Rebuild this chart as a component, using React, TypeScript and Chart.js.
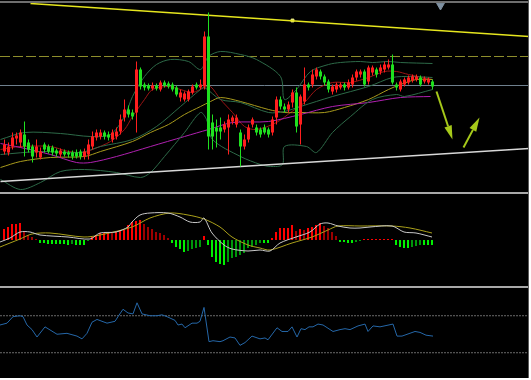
import React, { useEffect, useRef } from 'react';
import { Chart, registerables } from 'chart.js';
Chart.register(...registerables);

// ---------- Candles (price units) ----------
const OPEN = [39,38,44,52,48,56,48,44,38,33, 46,44,43,40,36,39,38,38,38,39, 34,36,44,53,54,58,56,51,54,59, 73,81,78,78,121,106,105,102,105,101, 108,107,106,103,93,91,91,98,106,103, 104,154,68,63,63,61,63,69,66,58, 44,51,66,63,61,63,61,58,73,91, 84,81,88,98,66,89,106,106,114,119, 114,109,99,101,103,106,103,106,113,116, 119,109,118,121,119,121,123,126,106,101, 106,108,110,111,113,109,108,109];
const CLOSE = [46,44,53,55,58,44,41,34,44,39, 41,39,38,37,40,36,36,34,34,34, 39,46,54,58,58,54,53,58,59,71, 81,76,74,121,104,103,102,105,102,108, 105,104,101,96,98,97,99,104,103,106, 154,54,54,59,59,66,71,73,73,44, 51,63,71,58,56,58,56,71,91,84, 81,86,98,64,94,106,103,116,121,114, 108,101,104,106,106,103,108,113,119,119, 106,123,123,116,123,126,126,108,103,109, 111,113,114,114,106,112,111,104];
const HIGH = [51,48,58,58,61,69,51,46,51,43, 48,46,45,42,42,41,40,40,41,41, 42,51,59,61,61,60,59,61,63,76, 91,85,81,129,123,108,107,108,107,110, 110,109,108,105,101,99,101,106,108,111, 159,178,76,71,73,69,76,75,76,61, 56,66,73,66,63,66,63,74,94,94, 87,89,101,103,96,123,108,121,123,121, 116,111,106,108,108,108,111,116,121,121, 121,125,125,123,126,129,131,136,108,111, 113,115,116,116,115,114,113,111];
const LOW = [36,35,41,46,43,34,38,28,33,31, 38,37,35,34,33,34,33,31,32,31, 31,31,41,50,51,51,50,48,51,56, 69,73,71,58,101,100,100,100,100,99, 103,102,99,94,89,89,89,96,101,101, 101,41,41,43,51,58,36,66,63,24, 41,48,63,55,53,56,53,55,66,81, 78,78,83,58,46,86,100,103,111,111, 105,98,96,98,101,100,101,103,110,113, 104,106,115,113,116,118,121,106,100,99, 104,106,108,109,104,107,106,101];

// ---------- Overlay lines (bar index, price) ----------
const BB_UPPER_X = [-1,5,14,21.5,26.5,30,32,35,38,41.5,46,49,51,54,59,63,69,70,73,76.5,81,84,89,92,96,99,107];
const BB_UPPER = [51,58,57,54,56,74,94,114,126,131,129,121,134,139,136,131,114,91,101,119,126,128,129,128,129,128,127];
const BB_MID_X = [-1,9,19,24,32,38,44,49,50,54,59,66,70,74,82,91,97,101.5,107];
const BB_MID = [36,39,38,44,51,64,84,101,103,91,88,78,79,84,94,104,113,114,113];
const BB_LOWER_X = [-1,4,9,14,20,28,34,36.5,40,45,49,50.5,52,59,64,66.5,69.5,70,75.5,78,82,86.5,92,98,100,107];
const BB_LOWER = [11,1,8,19,21,18,13,18,34,58,78,71,51,34,26,24,26,44,44,38,58,74,91,96,94,101];
const MA_RED_X = [-1,4,11.5,16,20,22,26.5,30,32,35,37,41,44,47,50,51.5,54,57,60,63,68,71.5,75,78,82,86.5,91,95,98,101,107];
const MA_RED = [41,44,44,39,38,41,49,61,74,91,101,104,101,98,103,104,91,78,64,61,68,78,88,101,108,108,113,119,119,116,111];
const MA_YELLOW_X = [-1,4,11.5,20,24,32,36.5,41,45,49,51.5,54,59,66,70,74,80,85,91,96,99,103,107];
const MA_YELLOW = [23,29,33,34,39,49,58,66,76,84,89,93,89,81,78,78,78,83,91,101,106,111,111];
const MA_MAGENTA_X = [-1,4,11.5,18,21.5,28,36.5,45,51,57,66,74,82,91,99,106.5];
const MA_MAGENTA = [47,43,36,28,28,34,44,54,61,68,69,76,84,88,93,94];

// trend lines, levels, arrows
const TREND_TOP_X = [6.5, 131.25];
const TREND_TOP = [187, 154];
const TREND_BOTTOM_X = [-1, 131.25];
const TREND_BOTTOM = [9, 42];
const RESIST_LEVEL = 134;
const PIVOT_LEVEL = 105;
const MARKER_X = [72];
const MARKER = [170];
const SHIFT_MARK_X = [109];
const SHIFT_MARK = [185];
const ARROW_X0 = [108, 114.75];
const ARROW_V0 = [99, 43];
const ARROW_X1 = [112, 118.75];
const ARROW_V1 = [51, 73];

// ---------- MACD ----------
const HIST = [11,13,16,16,17,9,5,3,1,-3, -3,-4,-4,-4,-4,-4,-5,-4,-5,-5, -5,-1,3,5,7,7,8,7,8,10, 10,15,18,19,20,16,13,11,8,7, 5,2,-3,-7,-9,-12,-11,-9,-8,-7, 4,-5,-17,-22,-24,-25,-22,-18,-17,-15, -13,-8,-7,-5,-3,-3,-3,2,8,12, 12,12,15,9,11,10,12,13,15,17, 14,12,8,4,-2,-2,-3,-3,-2,-1, 1,1,1,1,1,1,1,1,-5,-7, -8,-8,-7,-6,-5,-5,-5,-5];
const MACD_X = [-1,1.5,4,6.5,9,16,21.5,24,28,31,32,34,36.5,41,44,46.5,49,50,52,55,57,61,64,66.5,69,73,76.5,79,81,83.5,86.5,89,91.5,97,100,103,107];
const MACD = [-2,2,8,8,5,3,1,7,8,13,18,25,27,27,23,18,18,22,7,-5,-9,-11,-10,-11,-3,3,8,16,17,14,12,12,13,14,8,7,3];
const SIGNAL_X = [-1,4,7,11.5,20,24,32,36.5,41.5,46,50,54,57,61,64,66.5,72,77,81,83.5,89,97,101.5,107];
const SIGNAL = [-7,1,6,7,3,5,13,22,27,25,21,13,3,-5,-8,-10,-3,3,10,14,14,14,12,7];

// ---------- RSI ----------
const RSI_X = [-1,0.75,2.25,4,4.75,5.75,7,8.25,10.25,13.25,15.75,18.25,19.5,20.75,22,23.25,25.75,27.75,28.5,29.75,31,32.25,33.25,34.5,36.5,38.25,39.5,40.75,42.75,43.5,44.5,45.25,47,48.25,49,50,51.25,52.25,54,54.75,56.5,57.75,59,60.25,62,64,65.25,66,68.25,69.5,71,72,73.25,74.25,75.25,76.25,77.25,78.5,79.75,82.25,84,85.25,86.5,88.5,90.25,91,92.25,94,97.25,98.25,99.5,102.75,104,105.5,107.25];
const RSI = [60,62,69,70,69,60,55,47,58,50,51,48,45,51,63,66,62,64,69,77,73,72,84,72,70,70,71,69,65,60,61,57,62,62,64,79,42,43,42,43,47,46,38,41,48,45,46,44,57,53,53,58,47,56,55,58,58,61,60,53,55,56,55,59,61,53,59,58,61,48,48,53,52,49,48];
const RSI_LEVELS = [70, 30];

// ---------- styling ----------
const UP = '#ff1e1e';
const DOWN = '#1fe01f';
const ARROW_COLOR = '#a6c91a';
const W = 529;

const line = (xs: number[], vs: number[], color: string, extra: any = {}) => ({
  type: 'line',
  data: xs.map((x, i) => ({ x, y: vs[i] })),
  borderColor: color,
  backgroundColor: color,
  borderWidth: 1,
  pointRadius: 0,
  fill: false,
  tension: 0.3,
  order: 3,
  ...extra,
});

const baseOptions = (xMin: number, xMax: number, yMin: number, yMax: number): any => ({
  responsive: false,
  animation: false,
  devicePixelRatio: 1,
  events: [],
  layout: { padding: 0, autoPadding: false },
  plugins: { legend: { display: false }, tooltip: { enabled: false } },
  scales: {
    x: { type: 'linear', min: xMin, max: xMax, display: false, offset: false },
    y: { type: 'linear', min: yMin, max: yMax, display: false, beginAtZero: false },
  },
});

const arrowPlugin = {
  id: 'arrows',
  afterDatasetsDraw(chart: any) {
    const { ctx } = chart;
    const xs = chart.scales.x, ys = chart.scales.y;
    ctx.save();
    ctx.fillStyle = ARROW_COLOR;
    ctx.strokeStyle = ARROW_COLOR;
    ARROW_X0.forEach((_, k) => {
      const x0 = xs.getPixelForValue(ARROW_X0[k]), y0 = ys.getPixelForValue(ARROW_V0[k]);
      const x1 = xs.getPixelForValue(ARROW_X1[k]), y1 = ys.getPixelForValue(ARROW_V1[k]);
      const a = Math.atan2(y1 - y0, x1 - x0);
      const hl = 14, hw = 3.8;
      const bx = x1 - hl * Math.cos(a), by = y1 - hl * Math.sin(a);
      ctx.lineWidth = 2;
      ctx.beginPath(); ctx.moveTo(x0, y0); ctx.lineTo(bx, by); ctx.stroke();
      ctx.beginPath();
      ctx.moveTo(x1, y1);
      ctx.lineTo(bx + hw * Math.sin(a), by - hw * Math.cos(a));
      ctx.lineTo(bx - hw * Math.sin(a), by + hw * Math.cos(a));
      ctx.closePath();
      ctx.fill();
    });
    ctx.restore();
  },
};

function mainConfig(): any {
  const idx = OPEN.map((_, i) => i);
  const colors = OPEN.map((o, i) => (CLOSE[i] >= o ? UP : DOWN));
  const full = [-1.125, 131.125];
  return {
    type: 'bar',
    data: {
      datasets: [
        line(BB_UPPER_X, BB_UPPER, '#2d6a48'),
        line(BB_MID_X, BB_MID, '#2d6a48'),
        line(BB_LOWER_X, BB_LOWER, '#2d6a48'),
        line(MA_MAGENTA_X, MA_MAGENTA, '#b020b0'),
        line(MA_YELLOW_X, MA_YELLOW, '#a89a1c'),
        line(MA_RED_X, MA_RED, '#9a1414'),
        line(full, [PIVOT_LEVEL, PIVOT_LEVEL], '#6f808e', { tension: 0 }),
        line(full, [RESIST_LEVEL, RESIST_LEVEL], '#8e8e2c', { tension: 0, borderDash: [10, 3] }),
        line(TREND_TOP_X, TREND_TOP, '#e6e61e', { tension: 0, borderWidth: 1.5, order: 2 }),
        line(TREND_BOTTOM_X, TREND_BOTTOM, '#d8d8d8', { tension: 0, borderWidth: 1.5, order: 2 }),
        line(MARKER_X, MARKER, '#f0f080', { showLine: false, pointRadius: 2, pointStyle: 'rect', order: 2 }),
        line(SHIFT_MARK_X, SHIFT_MARK, '#7f91a2', { showLine: false, pointRadius: 4.5, pointStyle: 'triangle', rotation: 180, order: 2 }),
        {
          type: 'bar',
          data: idx.map((i) => ({ x: i, y: [LOW[i], HIGH[i]] })),
          backgroundColor: colors,
          barThickness: 1,
          grouped: false,
          inflateAmount: 0,
          order: 1,
        },
        {
          type: 'bar',
          data: idx.map((i) => ({ x: i, y: [Math.min(OPEN[i], CLOSE[i]), Math.max(OPEN[i], CLOSE[i])] })),
          backgroundColor: colors,
          barThickness: 3,
          grouped: false,
          minBarLength: 1,
          inflateAmount: 0,
          order: 0,
        },
      ],
    },
    options: baseOptions(full[0], full[1], -0.5, 187.5),
    plugins: [arrowPlugin],
  };
}

function macdConfig(): any {
  const colors = HIST.map((v, i) => {
    const p = i > 0 ? HIST[i - 1] : 0;
    if (v >= 0) return v >= p ? '#ff0000' : '#9c0000';
    return v <= p ? '#00f000' : '#00960a';
  });
  return {
    type: 'bar',
    data: {
      datasets: [
        line(MACD_X, MACD, '#c8c8c8', { order: 0 }),
        line(SIGNAL_X, SIGNAL, '#aaa01a', { order: 0 }),
        {
          type: 'bar',
          data: HIST.map((v, i) => ({ x: i, y: v })),
          backgroundColor: colors,
          barThickness: 2,
          grouped: false,
          inflateAmount: 0,
          order: 1,
        },
      ],
    },
    options: baseOptions(-1, 131.25, -46, 46),
  };
}

function rsiConfig(): any {
  const full = [-1, 131.25];
  return {
    type: 'line',
    data: {
      datasets: [
        ...RSI_LEVELS.map((l) => line(full, [l, l], '#6a6a6a', { tension: 0, borderDash: [2, 1] })),
        line(RSI_X, RSI, '#2567a8', { tension: 0, order: 0 }),
      ],
    },
    options: baseOptions(full[0], full[1], 2.7, 100),
  };
}

export default function App() {
  const mainRef = useRef<HTMLCanvasElement>(null);
  const macdRef = useRef<HTMLCanvasElement>(null);
  const rsiRef = useRef<HTMLCanvasElement>(null);

  useEffect(() => {
    const charts = [
      new Chart(mainRef.current as any, mainConfig()),
      new Chart(macdRef.current as any, macdConfig()),
      new Chart(rsiRef.current as any, rsiConfig()),
    ];
    return () => charts.forEach((c) => c.destroy());
  }, []);

  const abs = (top: number, height: number, bg: string, left = 0, width = W): any => ({
    position: 'absolute', left, top, width, height, background: bg,
  });

  return (
    <div style={{ position: 'absolute', left: 0, top: 0, width: W, height: 378, background: '#000', overflow: 'hidden' }}>
      <canvas ref={mainRef} width={W} height={188} style={{ position: 'absolute', left: 0, top: 3 }} />
      <canvas ref={macdRef} width={W} height={92} style={{ position: 'absolute', left: 0, top: 194 }} />
      <canvas ref={rsiRef} width={W} height={90} style={{ position: 'absolute', left: 0, top: 288 }} />
      <div style={abs(1, 2, '#6e6e6e')} />
      <div style={abs(192, 2, '#a8a8a8')} />
      <div style={abs(286, 2, '#a8a8a8')} />
      <div style={abs(0, 378, '#5a5a5a', W - 1, 1)} />
    </div>
  );
}
